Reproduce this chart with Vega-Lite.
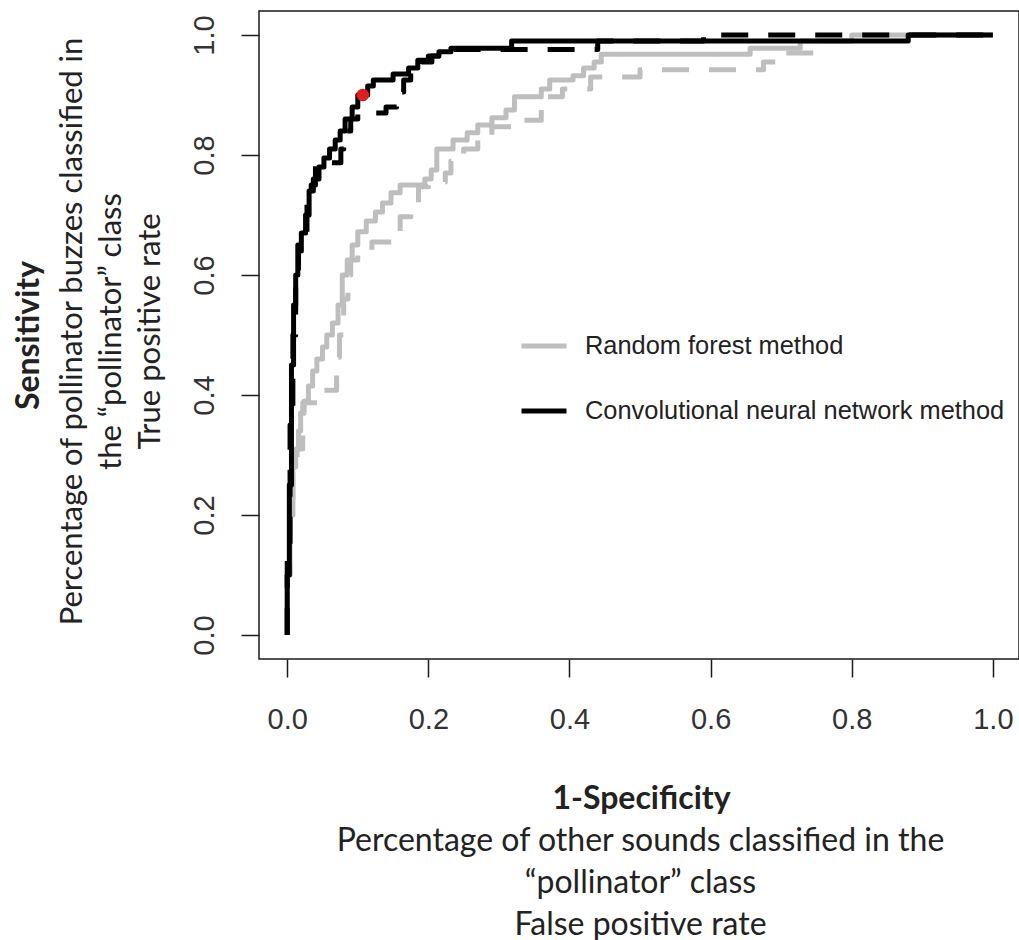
{
  "$schema": "https://vega.github.io/schema/vega-lite/v6.json",
  "width": 760,
  "height": 648,
  "autosize": {"type": "none"},
  "padding": {"left": 259, "top": 11, "right": 0, "bottom": 281},
  "background": "white",
  "config": {"view": {"stroke": "#1a1a1a", "strokeWidth": 1.5}, "axis": {"grid": false}},
  "datasets": {
    "rf": [
      {"method":"Random forest method","curve":"solid","fpr":0,"tpr":0},
      {"method":"Random forest method","curve":"solid","fpr":0,"tpr":0.1},
      {"method":"Random forest method","curve":"solid","fpr":0.004,"tpr":0.1},
      {"method":"Random forest method","curve":"solid","fpr":0.004,"tpr":0.2},
      {"method":"Random forest method","curve":"solid","fpr":0.008,"tpr":0.2},
      {"method":"Random forest method","curve":"solid","fpr":0.008,"tpr":0.28},
      {"method":"Random forest method","curve":"solid","fpr":0.012,"tpr":0.28},
      {"method":"Random forest method","curve":"solid","fpr":0.012,"tpr":0.31},
      {"method":"Random forest method","curve":"solid","fpr":0.016,"tpr":0.31},
      {"method":"Random forest method","curve":"solid","fpr":0.016,"tpr":0.34},
      {"method":"Random forest method","curve":"solid","fpr":0.019,"tpr":0.34},
      {"method":"Random forest method","curve":"solid","fpr":0.019,"tpr":0.37},
      {"method":"Random forest method","curve":"solid","fpr":0.024,"tpr":0.37},
      {"method":"Random forest method","curve":"solid","fpr":0.024,"tpr":0.39},
      {"method":"Random forest method","curve":"solid","fpr":0.03,"tpr":0.39},
      {"method":"Random forest method","curve":"solid","fpr":0.03,"tpr":0.415},
      {"method":"Random forest method","curve":"solid","fpr":0.036,"tpr":0.415},
      {"method":"Random forest method","curve":"solid","fpr":0.036,"tpr":0.44},
      {"method":"Random forest method","curve":"solid","fpr":0.042,"tpr":0.44},
      {"method":"Random forest method","curve":"solid","fpr":0.042,"tpr":0.46},
      {"method":"Random forest method","curve":"solid","fpr":0.05,"tpr":0.46},
      {"method":"Random forest method","curve":"solid","fpr":0.05,"tpr":0.48},
      {"method":"Random forest method","curve":"solid","fpr":0.056,"tpr":0.48},
      {"method":"Random forest method","curve":"solid","fpr":0.056,"tpr":0.5},
      {"method":"Random forest method","curve":"solid","fpr":0.064,"tpr":0.5},
      {"method":"Random forest method","curve":"solid","fpr":0.064,"tpr":0.52},
      {"method":"Random forest method","curve":"solid","fpr":0.072,"tpr":0.52},
      {"method":"Random forest method","curve":"solid","fpr":0.072,"tpr":0.55},
      {"method":"Random forest method","curve":"solid","fpr":0.078,"tpr":0.55},
      {"method":"Random forest method","curve":"solid","fpr":0.078,"tpr":0.6},
      {"method":"Random forest method","curve":"solid","fpr":0.085,"tpr":0.6},
      {"method":"Random forest method","curve":"solid","fpr":0.085,"tpr":0.625},
      {"method":"Random forest method","curve":"solid","fpr":0.092,"tpr":0.625},
      {"method":"Random forest method","curve":"solid","fpr":0.092,"tpr":0.65},
      {"method":"Random forest method","curve":"solid","fpr":0.1,"tpr":0.65},
      {"method":"Random forest method","curve":"solid","fpr":0.1,"tpr":0.672},
      {"method":"Random forest method","curve":"solid","fpr":0.112,"tpr":0.672},
      {"method":"Random forest method","curve":"solid","fpr":0.112,"tpr":0.69},
      {"method":"Random forest method","curve":"solid","fpr":0.125,"tpr":0.69},
      {"method":"Random forest method","curve":"solid","fpr":0.125,"tpr":0.705},
      {"method":"Random forest method","curve":"solid","fpr":0.135,"tpr":0.705},
      {"method":"Random forest method","curve":"solid","fpr":0.135,"tpr":0.72},
      {"method":"Random forest method","curve":"solid","fpr":0.147,"tpr":0.72},
      {"method":"Random forest method","curve":"solid","fpr":0.147,"tpr":0.737},
      {"method":"Random forest method","curve":"solid","fpr":0.16,"tpr":0.737},
      {"method":"Random forest method","curve":"solid","fpr":0.16,"tpr":0.75},
      {"method":"Random forest method","curve":"solid","fpr":0.195,"tpr":0.75},
      {"method":"Random forest method","curve":"solid","fpr":0.195,"tpr":0.76},
      {"method":"Random forest method","curve":"solid","fpr":0.204,"tpr":0.76},
      {"method":"Random forest method","curve":"solid","fpr":0.204,"tpr":0.775},
      {"method":"Random forest method","curve":"solid","fpr":0.212,"tpr":0.775},
      {"method":"Random forest method","curve":"solid","fpr":0.212,"tpr":0.81},
      {"method":"Random forest method","curve":"solid","fpr":0.235,"tpr":0.81},
      {"method":"Random forest method","curve":"solid","fpr":0.235,"tpr":0.825},
      {"method":"Random forest method","curve":"solid","fpr":0.255,"tpr":0.825},
      {"method":"Random forest method","curve":"solid","fpr":0.255,"tpr":0.837},
      {"method":"Random forest method","curve":"solid","fpr":0.27,"tpr":0.837},
      {"method":"Random forest method","curve":"solid","fpr":0.27,"tpr":0.85},
      {"method":"Random forest method","curve":"solid","fpr":0.29,"tpr":0.85},
      {"method":"Random forest method","curve":"solid","fpr":0.29,"tpr":0.862},
      {"method":"Random forest method","curve":"solid","fpr":0.31,"tpr":0.862},
      {"method":"Random forest method","curve":"solid","fpr":0.31,"tpr":0.875},
      {"method":"Random forest method","curve":"solid","fpr":0.322,"tpr":0.875},
      {"method":"Random forest method","curve":"solid","fpr":0.322,"tpr":0.897},
      {"method":"Random forest method","curve":"solid","fpr":0.36,"tpr":0.897},
      {"method":"Random forest method","curve":"solid","fpr":0.36,"tpr":0.91},
      {"method":"Random forest method","curve":"solid","fpr":0.372,"tpr":0.91},
      {"method":"Random forest method","curve":"solid","fpr":0.372,"tpr":0.925},
      {"method":"Random forest method","curve":"solid","fpr":0.405,"tpr":0.925},
      {"method":"Random forest method","curve":"solid","fpr":0.405,"tpr":0.932},
      {"method":"Random forest method","curve":"solid","fpr":0.42,"tpr":0.932},
      {"method":"Random forest method","curve":"solid","fpr":0.42,"tpr":0.945},
      {"method":"Random forest method","curve":"solid","fpr":0.435,"tpr":0.945},
      {"method":"Random forest method","curve":"solid","fpr":0.435,"tpr":0.955},
      {"method":"Random forest method","curve":"solid","fpr":0.445,"tpr":0.955},
      {"method":"Random forest method","curve":"solid","fpr":0.445,"tpr":0.968},
      {"method":"Random forest method","curve":"solid","fpr":0.656,"tpr":0.968},
      {"method":"Random forest method","curve":"solid","fpr":0.656,"tpr":0.978},
      {"method":"Random forest method","curve":"solid","fpr":0.727,"tpr":0.978},
      {"method":"Random forest method","curve":"solid","fpr":0.727,"tpr":0.99},
      {"method":"Random forest method","curve":"solid","fpr":0.8,"tpr":0.99},
      {"method":"Random forest method","curve":"solid","fpr":0.8,"tpr":1},
      {"method":"Random forest method","curve":"solid","fpr":1,"tpr":1},
      {"method":"Random forest method","curve":"dashed","fpr":0,"tpr":0},
      {"method":"Random forest method","curve":"dashed","fpr":0,"tpr":0.1},
      {"method":"Random forest method","curve":"dashed","fpr":0.004,"tpr":0.1},
      {"method":"Random forest method","curve":"dashed","fpr":0.004,"tpr":0.2},
      {"method":"Random forest method","curve":"dashed","fpr":0.008,"tpr":0.2},
      {"method":"Random forest method","curve":"dashed","fpr":0.008,"tpr":0.28},
      {"method":"Random forest method","curve":"dashed","fpr":0.014,"tpr":0.28},
      {"method":"Random forest method","curve":"dashed","fpr":0.014,"tpr":0.31},
      {"method":"Random forest method","curve":"dashed","fpr":0.022,"tpr":0.31},
      {"method":"Random forest method","curve":"dashed","fpr":0.022,"tpr":0.387},
      {"method":"Random forest method","curve":"dashed","fpr":0.047,"tpr":0.387},
      {"method":"Random forest method","curve":"dashed","fpr":0.047,"tpr":0.408},
      {"method":"Random forest method","curve":"dashed","fpr":0.07,"tpr":0.408},
      {"method":"Random forest method","curve":"dashed","fpr":0.07,"tpr":0.463},
      {"method":"Random forest method","curve":"dashed","fpr":0.074,"tpr":0.463},
      {"method":"Random forest method","curve":"dashed","fpr":0.074,"tpr":0.5},
      {"method":"Random forest method","curve":"dashed","fpr":0.08,"tpr":0.5},
      {"method":"Random forest method","curve":"dashed","fpr":0.08,"tpr":0.56},
      {"method":"Random forest method","curve":"dashed","fpr":0.086,"tpr":0.56},
      {"method":"Random forest method","curve":"dashed","fpr":0.086,"tpr":0.6},
      {"method":"Random forest method","curve":"dashed","fpr":0.09,"tpr":0.6},
      {"method":"Random forest method","curve":"dashed","fpr":0.09,"tpr":0.625},
      {"method":"Random forest method","curve":"dashed","fpr":0.1,"tpr":0.625},
      {"method":"Random forest method","curve":"dashed","fpr":0.1,"tpr":0.64},
      {"method":"Random forest method","curve":"dashed","fpr":0.12,"tpr":0.64},
      {"method":"Random forest method","curve":"dashed","fpr":0.12,"tpr":0.655},
      {"method":"Random forest method","curve":"dashed","fpr":0.153,"tpr":0.655},
      {"method":"Random forest method","curve":"dashed","fpr":0.153,"tpr":0.67},
      {"method":"Random forest method","curve":"dashed","fpr":0.16,"tpr":0.67},
      {"method":"Random forest method","curve":"dashed","fpr":0.16,"tpr":0.697},
      {"method":"Random forest method","curve":"dashed","fpr":0.175,"tpr":0.697},
      {"method":"Random forest method","curve":"dashed","fpr":0.175,"tpr":0.713},
      {"method":"Random forest method","curve":"dashed","fpr":0.186,"tpr":0.713},
      {"method":"Random forest method","curve":"dashed","fpr":0.186,"tpr":0.747},
      {"method":"Random forest method","curve":"dashed","fpr":0.2,"tpr":0.747},
      {"method":"Random forest method","curve":"dashed","fpr":0.2,"tpr":0.755},
      {"method":"Random forest method","curve":"dashed","fpr":0.224,"tpr":0.755},
      {"method":"Random forest method","curve":"dashed","fpr":0.224,"tpr":0.77},
      {"method":"Random forest method","curve":"dashed","fpr":0.232,"tpr":0.77},
      {"method":"Random forest method","curve":"dashed","fpr":0.232,"tpr":0.79},
      {"method":"Random forest method","curve":"dashed","fpr":0.25,"tpr":0.79},
      {"method":"Random forest method","curve":"dashed","fpr":0.25,"tpr":0.81},
      {"method":"Random forest method","curve":"dashed","fpr":0.27,"tpr":0.81},
      {"method":"Random forest method","curve":"dashed","fpr":0.27,"tpr":0.83},
      {"method":"Random forest method","curve":"dashed","fpr":0.29,"tpr":0.83},
      {"method":"Random forest method","curve":"dashed","fpr":0.29,"tpr":0.847},
      {"method":"Random forest method","curve":"dashed","fpr":0.33,"tpr":0.847},
      {"method":"Random forest method","curve":"dashed","fpr":0.33,"tpr":0.858},
      {"method":"Random forest method","curve":"dashed","fpr":0.36,"tpr":0.858},
      {"method":"Random forest method","curve":"dashed","fpr":0.36,"tpr":0.897},
      {"method":"Random forest method","curve":"dashed","fpr":0.39,"tpr":0.897},
      {"method":"Random forest method","curve":"dashed","fpr":0.39,"tpr":0.91},
      {"method":"Random forest method","curve":"dashed","fpr":0.43,"tpr":0.91},
      {"method":"Random forest method","curve":"dashed","fpr":0.43,"tpr":0.93},
      {"method":"Random forest method","curve":"dashed","fpr":0.5,"tpr":0.93},
      {"method":"Random forest method","curve":"dashed","fpr":0.5,"tpr":0.942},
      {"method":"Random forest method","curve":"dashed","fpr":0.675,"tpr":0.942},
      {"method":"Random forest method","curve":"dashed","fpr":0.675,"tpr":0.955},
      {"method":"Random forest method","curve":"dashed","fpr":0.7,"tpr":0.955},
      {"method":"Random forest method","curve":"dashed","fpr":0.7,"tpr":0.97},
      {"method":"Random forest method","curve":"dashed","fpr":0.75,"tpr":0.97},
      {"method":"Random forest method","curve":"dashed","fpr":0.75,"tpr":0.99},
      {"method":"Random forest method","curve":"dashed","fpr":0.8,"tpr":0.99},
      {"method":"Random forest method","curve":"dashed","fpr":0.8,"tpr":1},
      {"method":"Random forest method","curve":"dashed","fpr":1,"tpr":1}
    ],
    "cnn": [
      {"method":"Convolutional neural network method","curve":"solid","fpr":0,"tpr":0},
      {"method":"Convolutional neural network method","curve":"solid","fpr":0,"tpr":0.1},
      {"method":"Convolutional neural network method","curve":"solid","fpr":0.003,"tpr":0.1},
      {"method":"Convolutional neural network method","curve":"solid","fpr":0.003,"tpr":0.25},
      {"method":"Convolutional neural network method","curve":"solid","fpr":0.006,"tpr":0.25},
      {"method":"Convolutional neural network method","curve":"solid","fpr":0.006,"tpr":0.45},
      {"method":"Convolutional neural network method","curve":"solid","fpr":0.009,"tpr":0.45},
      {"method":"Convolutional neural network method","curve":"solid","fpr":0.009,"tpr":0.55},
      {"method":"Convolutional neural network method","curve":"solid","fpr":0.012,"tpr":0.55},
      {"method":"Convolutional neural network method","curve":"solid","fpr":0.012,"tpr":0.6},
      {"method":"Convolutional neural network method","curve":"solid","fpr":0.015,"tpr":0.6},
      {"method":"Convolutional neural network method","curve":"solid","fpr":0.015,"tpr":0.65},
      {"method":"Convolutional neural network method","curve":"solid","fpr":0.02,"tpr":0.65},
      {"method":"Convolutional neural network method","curve":"solid","fpr":0.02,"tpr":0.67},
      {"method":"Convolutional neural network method","curve":"solid","fpr":0.026,"tpr":0.67},
      {"method":"Convolutional neural network method","curve":"solid","fpr":0.026,"tpr":0.7},
      {"method":"Convolutional neural network method","curve":"solid","fpr":0.031,"tpr":0.7},
      {"method":"Convolutional neural network method","curve":"solid","fpr":0.031,"tpr":0.74},
      {"method":"Convolutional neural network method","curve":"solid","fpr":0.037,"tpr":0.74},
      {"method":"Convolutional neural network method","curve":"solid","fpr":0.037,"tpr":0.76},
      {"method":"Convolutional neural network method","curve":"solid","fpr":0.045,"tpr":0.76},
      {"method":"Convolutional neural network method","curve":"solid","fpr":0.045,"tpr":0.78},
      {"method":"Convolutional neural network method","curve":"solid","fpr":0.052,"tpr":0.78},
      {"method":"Convolutional neural network method","curve":"solid","fpr":0.052,"tpr":0.795},
      {"method":"Convolutional neural network method","curve":"solid","fpr":0.06,"tpr":0.795},
      {"method":"Convolutional neural network method","curve":"solid","fpr":0.06,"tpr":0.81},
      {"method":"Convolutional neural network method","curve":"solid","fpr":0.068,"tpr":0.81},
      {"method":"Convolutional neural network method","curve":"solid","fpr":0.068,"tpr":0.825},
      {"method":"Convolutional neural network method","curve":"solid","fpr":0.075,"tpr":0.825},
      {"method":"Convolutional neural network method","curve":"solid","fpr":0.075,"tpr":0.84},
      {"method":"Convolutional neural network method","curve":"solid","fpr":0.082,"tpr":0.84},
      {"method":"Convolutional neural network method","curve":"solid","fpr":0.082,"tpr":0.86},
      {"method":"Convolutional neural network method","curve":"solid","fpr":0.092,"tpr":0.86},
      {"method":"Convolutional neural network method","curve":"solid","fpr":0.092,"tpr":0.88},
      {"method":"Convolutional neural network method","curve":"solid","fpr":0.1,"tpr":0.88},
      {"method":"Convolutional neural network method","curve":"solid","fpr":0.1,"tpr":0.9},
      {"method":"Convolutional neural network method","curve":"solid","fpr":0.114,"tpr":0.9},
      {"method":"Convolutional neural network method","curve":"solid","fpr":0.114,"tpr":0.915},
      {"method":"Convolutional neural network method","curve":"solid","fpr":0.122,"tpr":0.915},
      {"method":"Convolutional neural network method","curve":"solid","fpr":0.122,"tpr":0.925},
      {"method":"Convolutional neural network method","curve":"solid","fpr":0.15,"tpr":0.925},
      {"method":"Convolutional neural network method","curve":"solid","fpr":0.15,"tpr":0.935},
      {"method":"Convolutional neural network method","curve":"solid","fpr":0.172,"tpr":0.935},
      {"method":"Convolutional neural network method","curve":"solid","fpr":0.172,"tpr":0.945},
      {"method":"Convolutional neural network method","curve":"solid","fpr":0.185,"tpr":0.945},
      {"method":"Convolutional neural network method","curve":"solid","fpr":0.185,"tpr":0.958},
      {"method":"Convolutional neural network method","curve":"solid","fpr":0.2,"tpr":0.958},
      {"method":"Convolutional neural network method","curve":"solid","fpr":0.2,"tpr":0.965},
      {"method":"Convolutional neural network method","curve":"solid","fpr":0.215,"tpr":0.965},
      {"method":"Convolutional neural network method","curve":"solid","fpr":0.215,"tpr":0.972},
      {"method":"Convolutional neural network method","curve":"solid","fpr":0.232,"tpr":0.972},
      {"method":"Convolutional neural network method","curve":"solid","fpr":0.232,"tpr":0.978},
      {"method":"Convolutional neural network method","curve":"solid","fpr":0.318,"tpr":0.978},
      {"method":"Convolutional neural network method","curve":"solid","fpr":0.318,"tpr":0.99},
      {"method":"Convolutional neural network method","curve":"solid","fpr":0.88,"tpr":0.99},
      {"method":"Convolutional neural network method","curve":"solid","fpr":0.88,"tpr":1},
      {"method":"Convolutional neural network method","curve":"solid","fpr":1,"tpr":1},
      {"method":"Convolutional neural network method","curve":"dashed","fpr":0,"tpr":0},
      {"method":"Convolutional neural network method","curve":"dashed","fpr":0,"tpr":0.15},
      {"method":"Convolutional neural network method","curve":"dashed","fpr":0.004,"tpr":0.15},
      {"method":"Convolutional neural network method","curve":"dashed","fpr":0.004,"tpr":0.35},
      {"method":"Convolutional neural network method","curve":"dashed","fpr":0.008,"tpr":0.35},
      {"method":"Convolutional neural network method","curve":"dashed","fpr":0.008,"tpr":0.5},
      {"method":"Convolutional neural network method","curve":"dashed","fpr":0.012,"tpr":0.5},
      {"method":"Convolutional neural network method","curve":"dashed","fpr":0.012,"tpr":0.58},
      {"method":"Convolutional neural network method","curve":"dashed","fpr":0.016,"tpr":0.58},
      {"method":"Convolutional neural network method","curve":"dashed","fpr":0.016,"tpr":0.64},
      {"method":"Convolutional neural network method","curve":"dashed","fpr":0.02,"tpr":0.64},
      {"method":"Convolutional neural network method","curve":"dashed","fpr":0.02,"tpr":0.66},
      {"method":"Convolutional neural network method","curve":"dashed","fpr":0.028,"tpr":0.66},
      {"method":"Convolutional neural network method","curve":"dashed","fpr":0.028,"tpr":0.72},
      {"method":"Convolutional neural network method","curve":"dashed","fpr":0.034,"tpr":0.72},
      {"method":"Convolutional neural network method","curve":"dashed","fpr":0.034,"tpr":0.75},
      {"method":"Convolutional neural network method","curve":"dashed","fpr":0.04,"tpr":0.75},
      {"method":"Convolutional neural network method","curve":"dashed","fpr":0.04,"tpr":0.787},
      {"method":"Convolutional neural network method","curve":"dashed","fpr":0.076,"tpr":0.787},
      {"method":"Convolutional neural network method","curve":"dashed","fpr":0.076,"tpr":0.81},
      {"method":"Convolutional neural network method","curve":"dashed","fpr":0.08,"tpr":0.81},
      {"method":"Convolutional neural network method","curve":"dashed","fpr":0.08,"tpr":0.84},
      {"method":"Convolutional neural network method","curve":"dashed","fpr":0.09,"tpr":0.84},
      {"method":"Convolutional neural network method","curve":"dashed","fpr":0.09,"tpr":0.86},
      {"method":"Convolutional neural network method","curve":"dashed","fpr":0.1,"tpr":0.86},
      {"method":"Convolutional neural network method","curve":"dashed","fpr":0.1,"tpr":0.87},
      {"method":"Convolutional neural network method","curve":"dashed","fpr":0.14,"tpr":0.87},
      {"method":"Convolutional neural network method","curve":"dashed","fpr":0.14,"tpr":0.88},
      {"method":"Convolutional neural network method","curve":"dashed","fpr":0.155,"tpr":0.88},
      {"method":"Convolutional neural network method","curve":"dashed","fpr":0.155,"tpr":0.905},
      {"method":"Convolutional neural network method","curve":"dashed","fpr":0.165,"tpr":0.905},
      {"method":"Convolutional neural network method","curve":"dashed","fpr":0.165,"tpr":0.925},
      {"method":"Convolutional neural network method","curve":"dashed","fpr":0.175,"tpr":0.925},
      {"method":"Convolutional neural network method","curve":"dashed","fpr":0.175,"tpr":0.945},
      {"method":"Convolutional neural network method","curve":"dashed","fpr":0.19,"tpr":0.945},
      {"method":"Convolutional neural network method","curve":"dashed","fpr":0.19,"tpr":0.955},
      {"method":"Convolutional neural network method","curve":"dashed","fpr":0.205,"tpr":0.955},
      {"method":"Convolutional neural network method","curve":"dashed","fpr":0.205,"tpr":0.965},
      {"method":"Convolutional neural network method","curve":"dashed","fpr":0.22,"tpr":0.965},
      {"method":"Convolutional neural network method","curve":"dashed","fpr":0.22,"tpr":0.976},
      {"method":"Convolutional neural network method","curve":"dashed","fpr":0.44,"tpr":0.976},
      {"method":"Convolutional neural network method","curve":"dashed","fpr":0.44,"tpr":0.99},
      {"method":"Convolutional neural network method","curve":"dashed","fpr":0.59,"tpr":0.99},
      {"method":"Convolutional neural network method","curve":"dashed","fpr":0.59,"tpr":1},
      {"method":"Convolutional neural network method","curve":"dashed","fpr":1,"tpr":1}
    ],
    "opt": [{"fpr": 0.107, "tpr": 0.9}]
  },
  "layer": [
    {
      "data": {"name": "rf"},
      "mark": {"type": "line", "strokeWidth": 5, "strokeCap": "butt", "strokeJoin": "round"},
      "encoding": {
        "x": {"field": "fpr", "type": "quantitative",
          "scale": {"domain": [-0.04, 1.037], "nice": false, "zero": false},
          "axis": {"orient": "bottom", "values": [0, 0.2, 0.4, 0.6, 0.8, 1], "format": ".1f", "domain": false, "grid": false,
            "ticks": true, "tickSize": 18, "tickWidth": 1.5, "tickColor": "#1a1a1a",
            "labelFont": "Liberation Sans", "labelFontSize": 29, "labelColor": "#333333", "labelBaseline": "alphabetic", "labelPadding": 51,
            "title": "1-Specificity", "titleFont": "Lato", "titleFontWeight": "bold", "titleFontSize": 32, "titleColor": "#222222",
            "titleX": 382, "titleY": 149, "titleAlign": "center", "titleBaseline": "alphabetic"}},
        "y": {"field": "tpr", "type": "quantitative",
          "scale": {"domain": [-0.04, 1.04], "nice": false, "zero": false},
          "axis": {"orient": "left", "values": [0, 0.2, 0.4, 0.6, 0.8, 1], "format": ".1f", "domain": false, "grid": false,
            "ticks": true, "tickSize": 18, "tickWidth": 1.5, "tickColor": "#1a1a1a",
            "labelFont": "Liberation Sans", "labelFontSize": 29, "labelColor": "#333333", "labelAngle": 270, "labelAlign": "center", "labelBaseline": "alphabetic", "labelPadding": 28,
            "title": "Sensitivity", "titleFont": "Lato", "titleFontWeight": "bold", "titleFontSize": 32, "titleColor": "#222222",
            "titleAngle": 270, "titleX": -221, "titleY": 324, "titleAlign": "center", "titleBaseline": "alphabetic"}},
        "color": {"field": "method", "type": "nominal",
          "scale": {"domain": ["Random forest method", "Convolutional neural network method"], "range": ["#bebebe", "#000000"]},
          "legend": {"orient": "none", "legendX": 260, "legendY": 310, "title": null, "padding": 0,
            "symbolType": "stroke", "symbolSize": 2025, "symbolStrokeWidth": 5,
            "labelFont": "Liberation Sans", "labelFontSize": 25.4, "labelColor": "#222222", "labelOffset": 16, "labelLimit": 0, "rowPadding": 26}},
        "strokeDash": {"field": "curve", "type": "nominal",
          "scale": {"domain": ["solid", "dashed"], "range": [[1, 0], [27, 20]]}, "legend": null},
        "order": {"value": null}
      }
    },
    {
      "data": {"name": "cnn"},
      "mark": {"type": "line", "strokeWidth": 5, "strokeCap": "butt", "strokeJoin": "round"},
      "encoding": {
        "x": {"field": "fpr", "type": "quantitative", "scale": {"domain": [-0.04, 1.037], "nice": false, "zero": false}, "axis": null},
        "y": {"field": "tpr", "type": "quantitative", "scale": {"domain": [-0.04, 1.04], "nice": false, "zero": false}, "axis": null},
        "color": {"field": "method", "type": "nominal",
          "scale": {"domain": ["Random forest method", "Convolutional neural network method"], "range": ["#bebebe", "#000000"]},
          "legend": {"orient": "none", "legendX": 260, "legendY": 310, "title": null, "padding": 0,
            "symbolType": "stroke", "symbolSize": 2025, "symbolStrokeWidth": 5,
            "labelFont": "Liberation Sans", "labelFontSize": 25.4, "labelColor": "#222222", "labelOffset": 16, "labelLimit": 0, "rowPadding": 26}},
        "strokeDash": {"field": "curve", "type": "nominal",
          "scale": {"domain": ["solid", "dashed"], "range": [[1, 0], [27, 20]]}, "legend": null},
        "order": {"value": null}
      }
    },
    {
      "data": {"name": "opt"},
      "mark": {"type": "circle", "color": "#dd1f1f", "opacity": 1, "size": 160},
      "encoding": {
        "x": {"field": "fpr", "type": "quantitative",
          "scale": {"domain": [-0.04, 1.037], "nice": false, "zero": false},
          "axis": {"orient": "bottom", "domain": false, "ticks": false, "labels": false, "grid": false,
            "title": ["Percentage of other sounds classified in the", "“pollinator” class", "False positive rate"],
            "titleFont": "Lato", "titleFontWeight": "normal", "titleFontSize": 32, "titleColor": "#222222", "titleLineHeight": 42,
            "titleX": 381, "titleY": 191, "titleAlign": "center", "titleBaseline": "alphabetic"}},
        "y": {"field": "tpr", "type": "quantitative",
          "scale": {"domain": [-0.04, 1.04], "nice": false, "zero": false},
          "axis": {"orient": "left", "domain": false, "ticks": false, "labels": false, "grid": false,
            "title": ["Percentage of pollinator buzzes classified in", "the “pollinator” class", "True positive rate"],
            "titleFont": "Lato", "titleFontWeight": "normal", "titleFontSize": 31, "titleColor": "#222222", "titleLineHeight": 39,
            "titleAngle": 270, "titleX": -178, "titleY": 320, "titleAlign": "center", "titleBaseline": "alphabetic"}}
      }
    }
  ],
  "resolve": {"axis": {"x": "independent", "y": "independent"}}
}
